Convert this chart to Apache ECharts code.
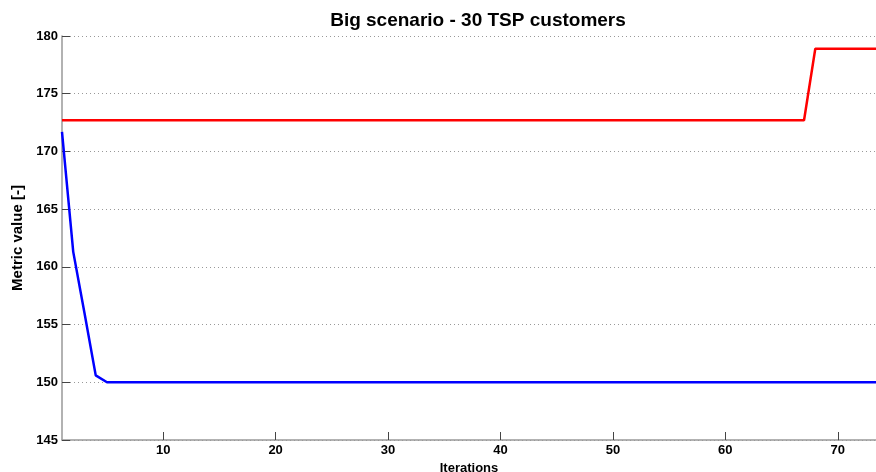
<!DOCTYPE html>
<html><head><meta charset="utf-8">
<script src="https://cdn.jsdelivr.net/npm/echarts@6/dist/echarts.min.js"></script>
<style>html,body{margin:0;padding:0;background:#fff}#c{width:876px;height:472px}</style>
</head><body><div id="c"></div>
<script>
const iterations = Array.from({length: 74}, (_, i) => i + 1);
const redValues = iterations.map(x => x <= 67 ? 172.7 : 178.9);
const blueHead = [171.7, 161.3, 156.0, 150.6, 150.0];
const blueValues = iterations.map((x, i) => i < blueHead.length ? blueHead[i] : 150.0);
const xTicks = [10, 20, 30, 40, 50, 60, 70];

const labelFont = 'Liberation Sans, Arial, sans-serif';
const chart = echarts.init(document.getElementById('c'));
chart.setOption({
  animation: false,
  title: {
    text: 'Big scenario - 30 TSP customers',
    left: 473, top: 6, textAlign: 'center',
    textStyle: {fontFamily: labelFont, fontWeight: 'bold', fontSize: 19, color: '#000'}
  },
  grid: {left: 62, right: 0, top: 36, bottom: 32, outerBoundsMode: 'none', containLabel: false},
  xAxis: {
    type: 'value', min: 1, max: 73.4,
    name: 'Iterations', nameLocation: 'middle', nameGap: 19,
    nameTextStyle: {fontFamily: 'Liberation Sans Narrow, Arial Narrow, sans-serif', fontWeight: 'bold', fontSize: 13, color: '#000'},
    axisLine: {lineStyle: {color: '#999', width: 1.5}},
    axisTick: {inside: true, length: 8, lineStyle: {color: '#444'}, customValues: xTicks},
    axisLabel: {customValues: xTicks, fontFamily: labelFont, fontWeight: 'bold', fontSize: 13, color: '#000', margin: 4},
    splitLine: {show: false}
  },
  yAxis: {
    type: 'value', min: 145, max: 180, interval: 5,
    name: 'Metric value [-]', nameLocation: 'middle', nameGap: 35,
    nameTextStyle: {fontFamily: labelFont, fontWeight: 'bold', fontSize: 15, color: '#000'},
    axisLine: {show: true, lineStyle: {color: '#999', width: 1.5}},
    axisTick: {show: true, inside: true, length: 8, lineStyle: {color: '#444'}},
    axisLabel: {fontFamily: labelFont, fontWeight: 'bold', fontSize: 13, color: '#000', margin: 4},
    splitLine: {show: true, lineStyle: {color: '#999', type: [1, 3], width: 1}}
  },
  series: [
    {type: 'line', data: iterations.map((x, i) => [x, redValues[i]]), symbol: 'none', clip: true,
     lineStyle: {color: '#ff0000', width: 2.5}, z: 3},
    {type: 'line', data: iterations.map((x, i) => [x, blueValues[i]]), symbol: 'none', clip: true,
     lineStyle: {color: '#0000ff', width: 2.5}, z: 4}
  ]
});
</script></body></html>
